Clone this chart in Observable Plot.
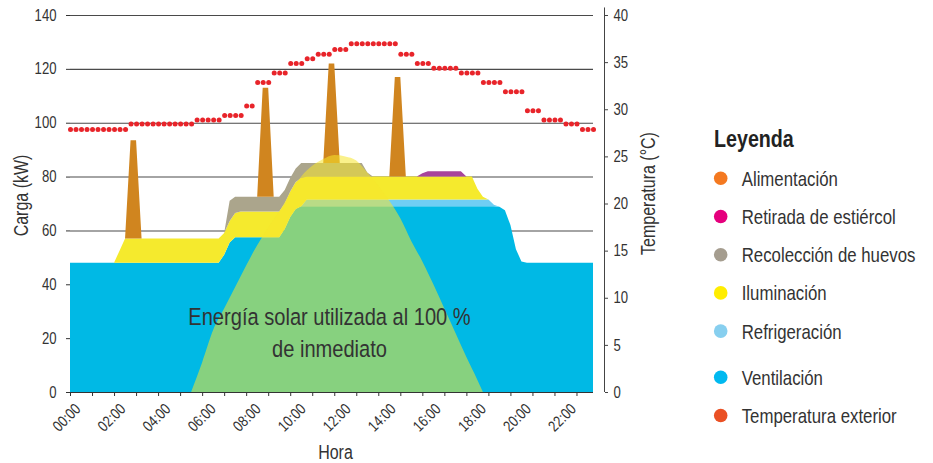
<!DOCTYPE html>
<html><head><meta charset="utf-8">
<script src="https://cdn.jsdelivr.net/npm/d3@7"></script>
<script src="https://cdn.jsdelivr.net/npm/@observablehq/plot@0.6"></script>
<style>
body{margin:0;background:#fff;}
#chart{position:relative;width:933px;height:463px;}
</style></head><body><div id="chart"></div>
<script>
const FONT = '"Liberation Sans", Arial, sans-serif';
const CONDENSE = 0.82; // horizontal squeeze to imitate a condensed face

// x grid: quarter hours 00:00 .. 23:45
const times = d3.range(0, 24, 0.25);

const seriesNames = ["Ventilación", "Refrigeración", "Iluminación", "Recolección de huevos", "Retirada de estiércol", "Alimentación"];
const seriesColors = ["#00b9e5", "#6fcef4", "#f5ea2d", "#aba58c", "#a8449b", "#d0851f"];

// kW per quarter hour
const ventilacion = [
  48,48,48,48,48,48,48,48,
  48,48,48,48,48,48,48,48,
  48,48,48,48,48,48,48,48,
  48,48,48,48,51,55.5,57.5,57.5,
  57.5,57.5,57.5,57.5,57.5,57.5,57.5,60.5,
  65,68,69,69,69,69,69,69,
  69,69,69,69,69,69,69,69,
  69,69,69,69,69,69,69,69,
  69,69,69,69,69,69,69,69,
  69,69,69,69,69,69,68.8,67.5,
  62,53,48.5,48,48,48,48,48,
  48,48,48,48,48,48,48,48
];
const refrigeracion = [
  0,0,0,0,0,0,0,0,
  0,0,0,0,0,0,0,0,
  0,0,0,0,0,0,0,0,
  0,0,0,0,0,0,0,0,
  0,0,0,0,0,0,0,0,
  0,0,0,2.5,2.5,2.5,2.5,2.5,
  2.5,2.5,2.5,2.5,2.5,2.5,2.5,2.5,
  2.5,2.5,2.5,2.5,2.5,2.5,2.5,2.5,
  2.5,2.5,2.5,2.5,2.5,2.5,2.5,2.5,
  2.5,2.5,2.5,2.5,2.5,0.5,0,0,
  0,0,0,0,0,0,0,0,
  0,0,0,0,0,0,0,0
];
const iluminacion = [
  0,0,0,0,0,0,0,0,
  0,4.5,9,9,9,9,9,9,
  9,9,9,9,9,9,9,9,
  9,9,9,9,8,8,9,9.5,
  9.5,9.5,9.5,9.5,9.5,9.5,9.5,9.5,
  9.5,10,10.5,8.5,8.5,8.5,8.5,8.5,
  8.5,8.5,8.5,8.5,8.5,8.5,8.5,8.5,
  8.5,8.5,8.5,8.5,8.5,8.5,8.5,8.5,
  8.5,8.5,8.5,8.5,8.5,8.5,8.5,8.5,
  8.5,8.5,4,1,0,0,0,0,
  0,0,0,0,0,0,0,0,
  0,0,0,0,0,0,0,0
];
const recoleccion = [
  0,0,0,0,0,0,0,0,
  0,0,0,0,0,0,0,0,
  0,0,0,0,0,0,0,0,
  0,0,0,0,0,7.5,6,5.5,
  5.5,5.5,5.5,5.5,5.5,5.5,5.5,5,
  5,5,5.5,5,5,5,5,5,
  5,5,5,5,5,5,1.5,0,
  0,0,0,0,0,0,0,0,
  0,0,0,0,0,0,0,0,
  0,0,0,0,0,0,0,0,
  0,0,0,0,0,0,0,0,
  0,0,0,0,0,0,0,0
];
const retirada = [
  0,0,0,0,0,0,0,0,
  0,0,0,0,0,0,0,0,
  0,0,0,0,0,0,0,0,
  0,0,0,0,0,0,0,0,
  0,0,0,0,0,0,0,0,
  0,0,0,0,0,0,0,0,
  0,0,0,0,0,0,0,0,
  0,0,0,0,0,0,0,0,
  1.2,2,2,2,2,2,2,2,
  0,0,0,0,0,0,0,0,
  0,0,0,0,0,0,0,0,
  0,0,0,0,0,0,0,0
];
const alimentacion = [
  0,0,0,0,0,0,0,0,
  0,0,0,36.5,36.5,0,0,0,
  0,0,0,0,0,0,0,0,
  0,0,0,0,0,0,0,0,
  0,0,0,40.5,40.5,0,0,0,
  0,0,0,0,0,0,0,37,
  37,0,0,0,0,0,0,0,
  0,0,0,37,37,0,0,0,
  0,0,0,0,0,0,0,0,
  0,0,0,0,0,0,0,0,
  0,0,0,0,0,0,0,0,
  0,0,0,0,0,0,0,0
];
// outside temperature, °C per quarter hour
const temperatura = [
  27.9,27.9,27.9,27.9,27.9,27.9,27.9,27.9,
  27.9,27.9,27.9,28.5,28.5,28.5,28.5,28.5,
  28.5,28.5,28.5,28.5,28.5,28.5,28.5,28.9,
  28.9,28.9,28.9,28.9,29.4,29.4,29.4,29.4,
  30.4,30.4,32.9,32.9,32.9,33.9,33.9,33.9,
  34.9,34.9,34.9,35.4,35.4,35.9,35.9,35.9,
  36.4,36.4,36.4,37,37,37,37,37,
  37,37,37,37,35.9,35.9,35.9,34.9,
  34.9,34.9,34.4,34.4,34.4,34.4,34.4,33.9,
  33.9,33.9,33.9,32.9,32.9,32.9,32.9,31.9,
  31.9,31.9,31.9,29.9,29.9,29.9,28.9,28.9,
  28.9,28.9,28.5,28.5,28.5,27.9,27.9,27.9
];
// solar energy (kW)
const solarHours = [5.5,6,6.5,7,7.5,8,8.5,9,9.5,10,10.5,11,11.5,12,12.5,13,13.5,14,14.5,15,15.5,16,16.5,17,17.5,18,18.5,18.75];
const solarKW    = [0,11,23,31,39,47,54.5,61,67,74,80,84,86.5,88,87.5,86,81.5,76.5,71,64.5,56,48.5,40,31,22,13,4.5,0];

const leftTicks = [0,20,40,60,80,100,120,140];
const tempTicks = [0,5,10,15,20,25,30,35,40];
const hourTicks = d3.range(0, 24);
const xTickHours = [0,2,4,6,8,10,12,14,16,18,20,22];
const xTickLabels = ["00:00","02:00","04:00","06:00","08:00","10:00","12:00","14:00","16:00","18:00","20:00","22:00"];

const legendTitle = "Leyenda";
const legendLabels = ["Alimentación","Retirada de estiércol","Recolección de huevos","Iluminación","Refrigeración","Ventilación","Temperatura exterior"];
const legendColors = ["#f47920","#e5007d","#a59d8f","#ffed00","#87cfef","#00b9f0","#ea5024"];

const kwPerC = 140 / 40;
const seriesValues = [ventilacion, refrigeracion, iluminacion, recoleccion, retirada, alimentacion];
const stackRows = seriesNames.flatMap((s, k) => times.map((t, i) => ({t, v: seriesValues[k][i], s})));
const solarRows = solarHours.map((t, i) => ({t, v: solarKW[i]}));
const tempRows = times.map((t, i) => ({t, c: temperatura[i]}));

const xLabelMarks = xTickHours.map((h, k) => Plot.text([xTickLabels[k]], {
  x: () => h, frameAnchor: "bottom", text: d => d, rotate: -45,
  textAnchor: "end", lineAnchor: "bottom", dx: 11 + k, dy: 17.5, fontSize: 15.5, fill: "#333"
}));

const svg = Plot.plot({
  width: 933, height: 463,
  marginLeft: 70, marginRight: 340, marginTop: 15, marginBottom: 71,
  style: {fontFamily: FONT, fontSize: "16px", color: "#333", background: "white", overflow: "visible"},
  x: {domain: [0, 23.75], axis: null, label: null},
  y: {domain: [0, 140], axis: null, label: null},
  color: {domain: seriesNames, range: seriesColors},
  marks: [
    Plot.gridY(leftTicks, {stroke: "#4a4a4a", strokeOpacity: 1, strokeWidth: 1.1}),
    Plot.areaY(stackRows, {x: "t", y: "v", z: "s", fill: "s", order: seriesNames, curve: "linear"}),
    Plot.areaY(solarRows, {x: "t", y: "v", fill: "#f6e62c", fillOpacity: 0.55, curve: "monotone-x"}),
    Plot.dot(tempRows, {x: "t", y: d => d.c * kwPerC, r: 2.5, fill: "#e8242a", stroke: null}),
    Plot.ruleY([0], {stroke: "#333", strokeWidth: 1.1}),
    Plot.axisY(leftTicks, {anchor: "left", label: null, tickSize: 4, tickPadding: 10, stroke: "#333", fill: "#333", fontSize: 16}),
    Plot.axisY(tempTicks.map(c => c * kwPerC), {anchor: "right", label: null, tickSize: 3, tickPadding: 6, dx: 11, stroke: "#444", fill: "#333", fontSize: 16, tickFormat: d => Math.round(d / kwPerC)}),
    Plot.ruleX([times[times.length - 1]], {y1: 0, y2: 40.8 * kwPerC, dx: 11, stroke: "#444"}),
    Plot.axisX(hourTicks, {label: null, tickSize: 4, tickFormat: () => "", stroke: "#333"}),
    ...xLabelMarks,
    Plot.text(["Carga (kW)"], {frameAnchor: "left", text: d => d, rotate: -90, dx: -48.7, dy: -8.5, fontSize: 19.5, fill: "#333", textAnchor: "middle"}),
    Plot.text(["Temperatura (°C)"], {frameAnchor: "right", text: d => d, rotate: -90, dx: 55, dy: -10.5, fontSize: 19.5, fill: "#333", textAnchor: "middle"}),
    Plot.text(["Hora"], {frameAnchor: "bottom", text: d => d, dx: 3.5, dy: 66, lineAnchor: "bottom", fontSize: 19.5, fill: "#333"}),
    Plot.text(["Energía solar utilizada al 100 %\nde inmediato"], {frameAnchor: "bottom", text: d => d, dx: -2.5, dy: -35.3, lineAnchor: "bottom", lineHeight: 1.32, fontSize: 24.5, fill: "#333"})
  ]
});

// squeeze every text horizontally (condensed look), keeping its anchor point
d3.select(svg).selectAll("text").each(function () {
  const t = this.getAttribute("transform") || "";
  this.setAttribute("transform", `${t} scale(${CONDENSE},1)`);
});

// legend on the right
const g = d3.select(svg).append("g").attr("font-family", FONT).attr("text-anchor", "start");
g.append("text").attr("transform", `translate(714,147.3) scale(${CONDENSE},1)`)
  .attr("font-size", 24).attr("font-weight", "bold").attr("fill", "#222").text(legendTitle);
legendLabels.forEach((lab, k) => {
  const cy = 178.3 + 38.2 * k + (k >= 5 ? 8 : 0);
  g.append("circle").attr("cx", 720.7).attr("cy", cy).attr("r", 6.8).attr("fill", legendColors[k]);
  g.append("text").attr("transform", `translate(741.7,${cy + 7.4}) scale(${CONDENSE},1)`)
    .attr("font-size", 20.5).attr("fill", "#333").text(lab);
});

document.getElementById("chart").appendChild(svg);
</script>
</body></html>
